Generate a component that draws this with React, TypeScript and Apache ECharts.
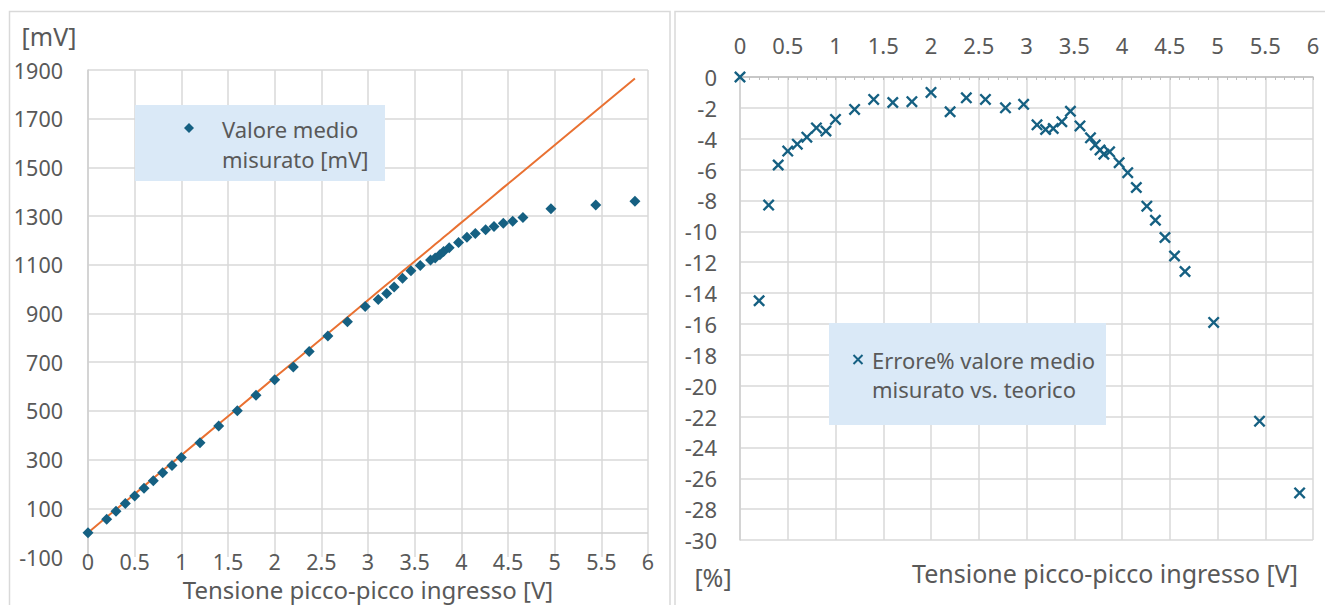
import React, { useEffect, useRef } from "react";
import * as echarts from "echarts";

// Shared x values: input peak-to-peak voltage [V]
const vpp = [0, 0.2, 0.3, 0.4, 0.5, 0.6, 0.7, 0.8, 0.9, 1.0, 1.2, 1.4, 1.6, 1.8, 2.0, 2.2, 2.37, 2.57, 2.78, 2.97, 3.11, 3.2, 3.28, 3.37, 3.46, 3.56, 3.67, 3.72, 3.77, 3.81, 3.87, 3.97, 4.06, 4.15, 4.26, 4.35, 4.45, 4.55, 4.66, 4.96, 5.44, 5.86];

// Left chart: measured mean value [mV]
const measuredMv = [0, 55, 88, 120, 151, 182, 213, 246, 276, 309, 369, 438, 501, 564, 628, 680, 744, 808, 866, 929, 957, 982, 1009, 1045, 1076, 1097, 1120, 1128, 1141, 1155, 1170, 1192, 1213, 1229, 1244, 1257, 1271, 1279, 1294, 1330, 1346, 1361];

// Left chart: theoretical mean value [mV] (orange line)
const theoreticalMv = [0, 64, 95, 127, 159, 191, 223, 255, 286, 318, 382, 446, 509, 573, 637, 700, 754, 818, 885, 945, 990, 1019, 1044, 1073, 1101, 1133, 1168, 1184, 1200, 1213, 1232, 1264, 1292, 1321, 1356, 1385, 1417, 1448, 1483, 1579, 1732, 1865];

// Right chart: error % measured vs. theoretical
const errorPct = [0, -14.5, -8.3, -5.7, -4.8, -4.35, -3.9, -3.3, -3.5, -2.75, -2.1, -1.45, -1.65, -1.6, -1.0, -2.25, -1.35, -1.45, -2.0, -1.77, -3.1, -3.4, -3.34, -2.9, -2.22, -3.17, -3.94, -4.4, -4.73, -5.0, -4.85, -5.55, -6.2, -7.16, -8.37, -9.28, -10.4, -11.6, -12.6, -15.9, -22.3, -26.95];

const leftLegend = ["Valore medio", "misurato [mV]"];
const rightLegend = ["Errore% valore medio", "misurato vs. teorico"];
const xTitle = "Tensione picco-picco ingresso [V]";
const leftUnit = "[mV]";
const rightUnit = "[%]";

const FONT = "Noto Sans";
const GRAY = "#595959";
const GRID = "#D9D9D9";
const BLUE = "#156082";
const ORANGE = "#E97132";
const LEGEND_BG = "#DAE9F7";
const CROSS = "path://M0,1.4 L1.4,0 L5,3.6 L8.6,0 L10,1.4 L6.4,5 L10,8.6 L8.6,10 L5,6.4 L1.4,10 L0,8.6 L3.6,5 Z";

const plain = (v: number) => String(v);

export default function App() {
  const ref = useRef<HTMLDivElement>(null);
  useEffect(() => {
    if (!ref.current) return;
    const chart = echarts.init(ref.current, undefined, { renderer: "svg" });
    const txt = (text: string, x: number, y: number, size: number, align = "left") => ({
      type: "text",
      x,
      y,
      z: 20,
      silent: true,
      style: {
        text,
        fill: GRAY,
        fontSize: size,
        lineHeight: size,
        fontFamily: FONT,
        align,
        textAlign: align,
        verticalAlign: "middle",
        textVerticalAlign: "middle",
      },
    });
    chart.setOption({
      animation: false,
      textStyle: { fontFamily: FONT },
      grid: [
        { left: 88, top: 70, right: 677, bottom: 48, outerBoundsMode: "none" },
        { left: 740, top: 77, right: 12, bottom: 65, outerBoundsMode: "none" },
      ],
      xAxis: [
        {
          gridIndex: 0,
          type: "value",
          min: 0,
          max: 6,
          interval: 0.5,
          position: "bottom",
          axisLine: { show: false },
          axisTick: { show: false },
          axisLabel: { color: GRAY, fontSize: 21.5, lineHeight: 21, fontFamily: FONT, margin: -6, formatter: plain },
          splitLine: { show: true, lineStyle: { color: GRID, width: 1.5 } },
        },
        {
          gridIndex: 1,
          type: "value",
          min: 0,
          max: 6,
          interval: 0.5,
          position: "top",
          axisLine: { show: true, onZero: false, lineStyle: { color: "#BFBFBF", width: 1.5 } },
          axisTick: { show: true, inside: true, length: 3, lineStyle: { color: "#BFBFBF" } },
          minorTick: { show: true, splitNumber: 5, length: 3, lineStyle: { color: "#BFBFBF" } },
          axisLabel: { color: GRAY, fontSize: 22, fontFamily: FONT, margin: 21, formatter: plain },
          splitLine: { show: true, lineStyle: { color: GRID, width: 1.5 } },
        },
      ],
      yAxis: [
        {
          gridIndex: 0,
          type: "value",
          min: -100,
          max: 1900,
          interval: 200,
          axisLine: { show: true, onZero: false, lineStyle: { color: "#CFCFCF", width: 1.5 } },
          axisTick: { show: false },
          axisLabel: { color: GRAY, fontSize: 21.5, fontFamily: FONT, margin: 25, formatter: plain },
          splitLine: { show: true, showMinLine: false, lineStyle: { color: GRID, width: 1.5 } },
        },
        {
          gridIndex: 1,
          type: "value",
          min: -30,
          max: 0,
          interval: 2,
          axisLine: { show: true, onZero: false, lineStyle: { color: "#CFCFCF", width: 1.5 } },
          axisTick: { show: false },
          axisLabel: { color: GRAY, fontSize: 22, fontFamily: FONT, margin: 23, formatter: plain },
          splitLine: { show: true, lineStyle: { color: GRID, width: 1.5 } },
        },
      ],
      series: [
        {
          name: "Teorico",
          type: "line",
          xAxisIndex: 0,
          yAxisIndex: 0,
          data: vpp.map((x, i) => [x, theoreticalMv[i]]),
          showSymbol: false,
          symbol: "none",
          lineStyle: { color: ORANGE, width: 2 },
          itemStyle: { color: ORANGE },
          z: 2,
          markLine: {
            silent: true,
            symbol: "none",
            label: { show: false },
            lineStyle: { color: "#CFCFCF", width: 1.5, type: "solid" },
            data: [{ yAxis: 0 }],
            z: 1,
          },
        },
        {
          name: "Valore medio misurato [mV]",
          type: "scatter",
          xAxisIndex: 0,
          yAxisIndex: 0,
          data: vpp.map((x, i) => [x, measuredMv[i]]),
          symbol: "diamond",
          symbolSize: 11,
          itemStyle: { color: BLUE, opacity: 1 },
          z: 3,
        },
        {
          name: "Errore% valore medio misurato vs. teorico",
          type: "scatter",
          xAxisIndex: 1,
          yAxisIndex: 1,
          data: vpp.map((x, i) => [x, errorPct[i]]),
          symbol: CROSS,
          symbolSize: 12,
          itemStyle: { color: BLUE, opacity: 1 },
          z: 3,
        },
      ],
      graphic: [
        { type: "rect", silent: true, z: 0, shape: { x: 9.5, y: 11.5, width: 660.5, height: 640 }, style: { fill: "none", stroke: GRID, lineWidth: 1.5 } },
        { type: "rect", silent: true, z: 0, shape: { x: 675, y: 11.5, width: 700, height: 640 }, style: { fill: "none", stroke: GRID, lineWidth: 1.5 } },
        { type: "rect", silent: true, z: 15, shape: { x: 135, y: 105, width: 250, height: 76 }, style: { fill: LEGEND_BG } },
        { type: "polygon", silent: true, z: 20, shape: { points: [[189, 123], [194, 128], [189, 133], [184, 128]] }, style: { fill: BLUE } },
        txt(leftLegend[0], 222, 129, 22),
        txt(leftLegend[1], 222, 159, 22),
        { type: "rect", silent: true, z: 15, shape: { x: 829, y: 323, width: 277, height: 102 }, style: { fill: LEGEND_BG } },
        { type: "line", silent: true, z: 20, shape: { x1: 853.5, y1: 355, x2: 862.5, y2: 364 }, style: { stroke: BLUE, lineWidth: 2 } },
        { type: "line", silent: true, z: 20, shape: { x1: 862.5, y1: 355, x2: 853.5, y2: 364 }, style: { stroke: BLUE, lineWidth: 2 } },
        txt(rightLegend[0], 872, 360, 22),
        txt(rightLegend[1], 872, 389, 22),
        txt(leftUnit, 49, 36, 25, "center"),
        txt(xTitle, 368, 589, 24, "center"),
        txt(rightUnit, 713, 577, 25, "center"),
        txt(xTitle, 1105, 573, 25, "center"),
      ],
    });
    return () => chart.dispose();
  }, []);
  return (
    <div
      ref={ref}
      style={{ position: "absolute", left: 0, top: 0, width: 1325, height: 605, background: "#fff" }}
    />
  );
}
